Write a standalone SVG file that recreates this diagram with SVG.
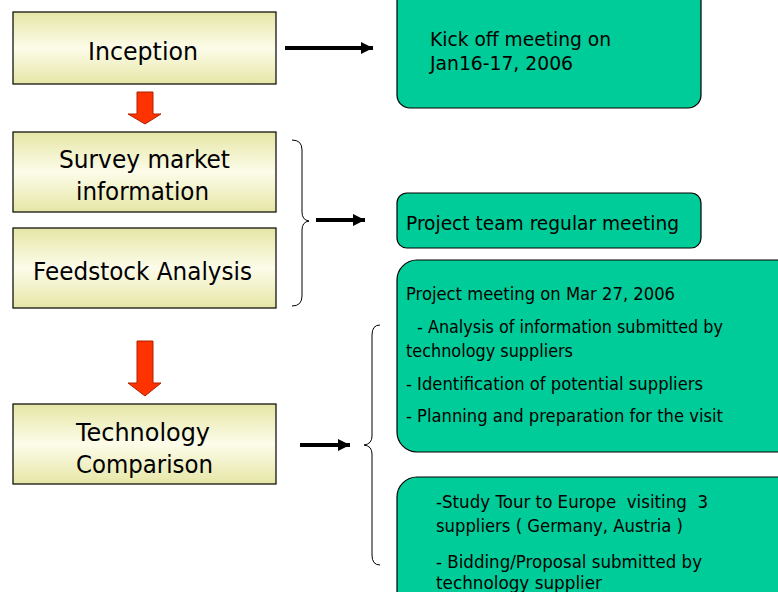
<svg xmlns="http://www.w3.org/2000/svg" width="778" height="592" viewBox="0 0 778 592">
<style>
text{font-family:"DejaVu Sans","Liberation Sans",sans-serif;fill:#000}
.step{stroke:#000;stroke-width:1.2}
.big{font-size:24px}
.mid{font-size:20px}
.sm{font-size:18px}
.note{fill:#00cc99;stroke:#000;stroke-width:1.2}
.line{stroke:#000;stroke-width:4;fill:none}
.brace{stroke:#000;stroke-width:1;fill:none}
.red{fill:#ff3300;stroke:#b02000;stroke-width:1}
</style>
<defs>
<linearGradient id="yg" x1="0" y1="0" x2="0" y2="1">
<stop offset="0" stop-color="#e6e6a6"/>
<stop offset="0.5" stop-color="#fcfcea"/>
<stop offset="1" stop-color="#e6e6a6"/>
</linearGradient>
<marker id="ah" viewBox="0 0 12 12" refX="12" refY="6" markerWidth="12" markerHeight="12" orient="auto" markerUnits="userSpaceOnUse">
<path d="M0,0 L12,6 L0,12 Z" fill="#000"/>
</marker>
</defs>
<rect width="778" height="592" fill="#fff"/>

<g id="inception">
<rect class="step" x="13" y="12" width="263" height="72" fill="url(#yg)"/>
<text class="big" x="88" y="60" textLength="110" lengthAdjust="spacingAndGlyphs">Inception</text>
</g>
<g id="survey">
<rect class="step" x="13" y="132" width="263" height="80" fill="url(#yg)"/>
<text class="big" x="59" y="168" textLength="171" lengthAdjust="spacingAndGlyphs">Survey market</text>
<text class="big" x="76" y="200" textLength="133" lengthAdjust="spacingAndGlyphs">information</text>
</g>
<g id="feedstock">
<rect class="step" x="13" y="228" width="263" height="80" fill="url(#yg)"/>
<text class="big" x="33" y="280" textLength="219" lengthAdjust="spacingAndGlyphs">Feedstock Analysis</text>
</g>
<g id="technology">
<rect class="step" x="13" y="404" width="263" height="80" fill="url(#yg)"/>
<text class="big" x="76" y="441" textLength="134" lengthAdjust="spacingAndGlyphs">Technology</text>
<text class="big" x="76" y="473" textLength="137" lengthAdjust="spacingAndGlyphs">Comparison</text>
</g>

<g id="kickoff">
<rect class="note" x="397" y="-14" width="304" height="122" rx="13"/>
<text class="mid" x="430" y="46" textLength="181" lengthAdjust="spacingAndGlyphs">Kick off meeting on</text>
<text class="mid" x="430" y="70" textLength="143" lengthAdjust="spacingAndGlyphs">Jan16-17, 2006</text>
</g>
<g id="regular">
<rect class="note" x="397" y="193" width="304" height="55" rx="10"/>
<text class="mid" x="406" y="230" textLength="273" lengthAdjust="spacingAndGlyphs">Project team regular meeting</text>
</g>
<g id="projectmeeting">
<rect class="note" x="397" y="260" width="400" height="192" rx="20"/>
<text class="sm" x="406" y="300" textLength="269" lengthAdjust="spacingAndGlyphs">Project meeting on Mar 27, 2006</text>
<text class="sm" x="412" y="333" textLength="311" lengthAdjust="spacingAndGlyphs" xml:space="preserve"> - Analysis of information submitted by</text>
<text class="sm" x="406" y="357" textLength="167" lengthAdjust="spacingAndGlyphs">technology suppliers</text>
<text class="sm" x="406" y="390" textLength="297" lengthAdjust="spacingAndGlyphs">- Identification of potential suppliers</text>
<text class="sm" x="406" y="422" textLength="317" lengthAdjust="spacingAndGlyphs">- Planning and preparation for the visit</text>
</g>
<g id="studytour">
<rect class="note" x="397" y="477" width="400" height="140" rx="20"/>
<text class="sm" x="436" y="508" textLength="272" lengthAdjust="spacingAndGlyphs" xml:space="preserve">-Study Tour to Europe  visiting  3</text>
<text class="sm" x="436" y="532" textLength="247" lengthAdjust="spacingAndGlyphs">suppliers ( Germany, Austria )</text>
<text class="sm" x="436" y="568" textLength="266" lengthAdjust="spacingAndGlyphs">- Bidding/Proposal submitted by</text>
<text class="sm" x="436" y="589" textLength="166" lengthAdjust="spacingAndGlyphs">technology supplier</text>
</g>

<g id="connectors">
<path class="red" d="M137,92 H153 V114 H161 L145,124 L128,114 H137 Z"/>
<path class="red" d="M137,341 H153 V383 H161 L145,396 L128,383 H137 Z"/>
<line class="line" x1="285" y1="48" x2="373" y2="48" marker-end="url(#ah)"/>
<line class="line" x1="316" y1="220" x2="365" y2="220" marker-end="url(#ah)"/>
<line class="line" x1="300" y1="445" x2="350" y2="445" marker-end="url(#ah)"/>
<path class="brace" d="M292,140 Q302,140 302,150 L302,212 Q302,220 309,221 Q302,222 302,230 L302,296 Q302,306 292,306"/>
<path class="brace" d="M380,325 Q372,325 372,335 L372,436 Q372,444 364,445 Q372,446 372,454 L372,555 Q372,565 380,565"/>
</g>
</svg>
